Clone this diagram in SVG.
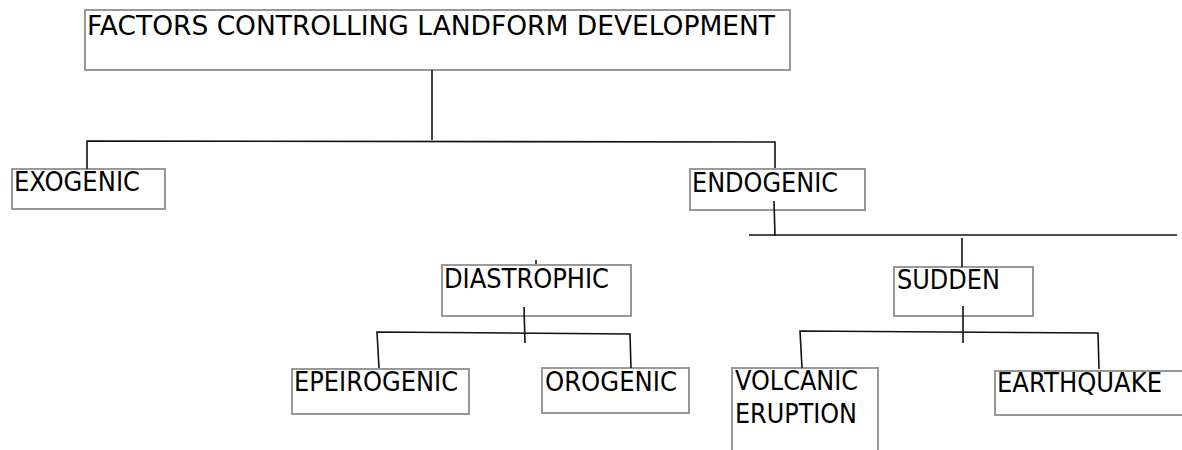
<svg xmlns="http://www.w3.org/2000/svg" width="1182" height="450" viewBox="0 0 1182 450">
<style>
.box{fill:#fff;stroke:#999;stroke-width:2}
.t{font-family:"DejaVu Sans",sans-serif;font-size:27px;fill:#000}
.c{fill:none;stroke:#111;stroke-width:1.6}
</style>
<rect width="1182" height="450" fill="#fff"/>
<g id="n-title"><rect class="box" x="85" y="10" width="705" height="60"/><text class="t" x="87" y="35" textLength="688" lengthAdjust="spacingAndGlyphs">FACTORS CONTROLLING LANDFORM DEVELOPMENT</text></g>
<g id="n-exogenic"><rect class="box" x="12" y="169" width="153" height="40"/><text class="t" x="14" y="191" textLength="126" lengthAdjust="spacingAndGlyphs">EXOGENIC</text></g>
<g id="n-endogenic"><rect class="box" x="690" y="169" width="175" height="41"/><text class="t" x="692" y="192" textLength="146" lengthAdjust="spacingAndGlyphs">ENDOGENIC</text></g>
<g id="n-diastrophic"><rect class="box" x="442" y="265" width="189" height="51"/><text class="t" x="444" y="288" textLength="165" lengthAdjust="spacingAndGlyphs">DIASTROPHIC</text></g>
<g id="n-sudden"><rect class="box" x="894" y="267" width="139" height="49"/><text class="t" x="897" y="289" textLength="103" lengthAdjust="spacingAndGlyphs">SUDDEN</text></g>
<g id="n-epeirogenic"><rect class="box" x="292" y="369" width="177" height="45"/><text class="t" x="294" y="391" textLength="164" lengthAdjust="spacingAndGlyphs">EPEIROGENIC</text></g>
<g id="n-orogenic"><rect class="box" x="542" y="368" width="147" height="45"/><text class="t" x="545" y="391" textLength="132" lengthAdjust="spacingAndGlyphs">OROGENIC</text></g>
<g id="n-volcanic"><path class="box" d="M732,452 V368 H878 V452"/><text class="t" x="735" y="390" textLength="123" lengthAdjust="spacingAndGlyphs">VOLCANIC</text><text class="t" x="735" y="423" textLength="122" lengthAdjust="spacingAndGlyphs">ERUPTION</text></g>
<g id="n-earthquake"><rect class="box" x="995" y="371" width="200" height="44"/><text class="t" x="997" y="392" textLength="165" lengthAdjust="spacingAndGlyphs">EARTHQUAKE</text></g>
<g id="connectors">
<path class="c" d="M432,70 V140"/>
<path class="c" d="M87,169 V141 L775,142 V168"/>
<path class="c" d="M774,201 L775,236"/>
<path class="c" d="M749,235 H1177"/>
<path class="c" d="M962,238 V267"/>
<path class="c" d="M963,306 V343"/>
<path class="c" d="M802,368 L800,331 L1098,333 L1099,369"/>
<path class="c" d="M536,260 V264"/>
<path class="c" d="M524,307 L525,343"/>
<path class="c" d="M379,368 L377,332 L630,334 L631,368"/>
</g>
</svg>
